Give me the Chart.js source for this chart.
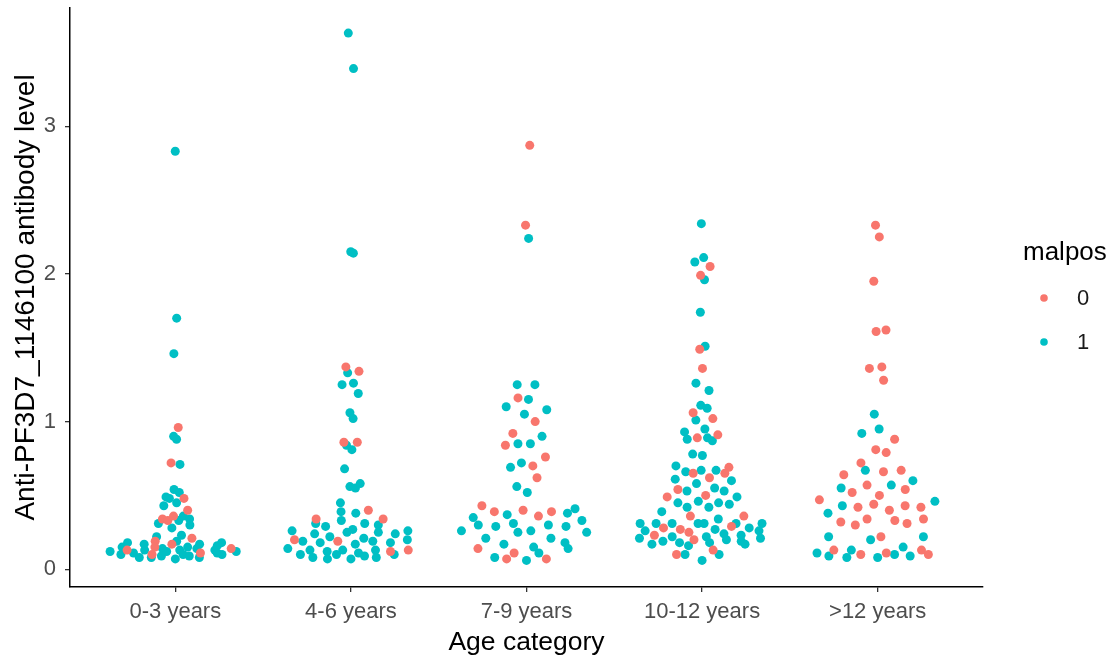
<!DOCTYPE html>
<html>
<head>
<meta charset="utf-8">
<script src="https://cdn.jsdelivr.net/npm/chart.js"></script>
<style>
html, body { margin: 0; padding: 0; background: #fff; }
#wrap { width: 1119px; height: 660px; }
</style>
</head>
<body>
<div id="wrap"><canvas id="graficoSwarm"></canvas></div>
<script>
// categorias e ticks
const categories = ['0-3 years', '4-6 years', '7-9 years', '10-12 years', '>12 years'];
const yTicks = [0, 1, 2, 3];
const seriesLabels = ['0', '1'];

// malpos = 0, um array por categoria
const malpos0 = [
    [0.96, 0.72, 0.48, 0.40, 0.36, 0.34, 0.33, 0.21, 0.19, 0.17, 0.15, 0.14, 0.13, 0.11, 0.10],
    [1.37, 1.34, 0.86, 0.86, 0.40, 0.34, 0.34, 0.20, 0.19, 0.13, 0.12],
    [2.87, 2.33, 1.16, 1.00, 0.92, 0.84, 0.76, 0.70, 0.62, 0.43, 0.40, 0.39, 0.39, 0.36, 0.14, 0.11, 0.07, 0.07],
    [2.05, 1.99, 1.49, 1.36, 1.06, 1.02, 0.91, 0.89, 0.69, 0.65, 0.65, 0.62, 0.54, 0.50, 0.49, 0.36, 0.36, 0.29, 0.28, 0.27, 0.25, 0.23, 0.20, 0.13, 0.10],
    [2.33, 2.25, 1.95, 1.62, 1.61, 1.37, 1.36, 1.28, 0.88, 0.81, 0.79, 0.72, 0.67, 0.66, 0.64, 0.57, 0.54, 0.52, 0.50, 0.47, 0.44, 0.43, 0.42, 0.42, 0.40, 0.34, 0.34, 0.33, 0.32, 0.31, 0.30, 0.22, 0.13, 0.13, 0.11, 0.10, 0.10]
];

// malpos = 1
const malpos1 = [
    [2.83, 1.70, 1.46, 0.90, 0.88, 0.71, 0.54, 0.52, 0.49, 0.48, 0.45, 0.43, 0.36, 0.34, 0.33, 0.31, 0.30, 0.28, 0.23, 0.22, 0.19, 0.18, 0.18, 0.17, 0.17, 0.16, 0.15, 0.15, 0.14, 0.14, 0.13, 0.13, 0.13, 0.12, 0.12, 0.12, 0.11, 0.11, 0.10, 0.10, 0.10, 0.09, 0.09, 0.08, 0.08, 0.08, 0.07],
    [3.63, 3.39, 2.15, 2.14, 1.33, 1.26, 1.25, 1.19, 1.06, 1.02, 0.84, 0.81, 0.68, 0.58, 0.56, 0.55, 0.45, 0.39, 0.38, 0.33, 0.31, 0.31, 0.30, 0.29, 0.27, 0.26, 0.26, 0.25, 0.25, 0.24, 0.24, 0.22, 0.21, 0.20, 0.19, 0.19, 0.18, 0.18, 0.17, 0.14, 0.13, 0.13, 0.13, 0.12, 0.11, 0.10, 0.10, 0.10, 0.09, 0.08, 0.08, 0.07, 0.07],
    [2.24, 1.25, 1.25, 1.15, 1.10, 1.08, 1.05, 0.90, 0.85, 0.85, 0.72, 0.69, 0.56, 0.52, 0.41, 0.38, 0.37, 0.35, 0.33, 0.31, 0.30, 0.30, 0.29, 0.29, 0.26, 0.26, 0.25, 0.25, 0.21, 0.21, 0.18, 0.17, 0.15, 0.14, 0.11, 0.08, 0.06],
    [2.34, 2.11, 2.08, 1.96, 1.74, 1.51, 1.26, 1.21, 1.11, 1.09, 1.01, 0.95, 0.93, 0.89, 0.88, 0.87, 0.78, 0.77, 0.70, 0.67, 0.67, 0.66, 0.61, 0.60, 0.58, 0.55, 0.53, 0.53, 0.49, 0.46, 0.45, 0.45, 0.44, 0.42, 0.42, 0.39, 0.34, 0.31, 0.31, 0.31, 0.31, 0.31, 0.31, 0.31, 0.28, 0.27, 0.26, 0.26, 0.24, 0.23, 0.22, 0.22, 0.21, 0.21, 0.20, 0.19, 0.19, 0.18, 0.18, 0.17, 0.17, 0.16, 0.10, 0.10, 0.06],
    [1.05, 0.95, 0.92, 0.67, 0.60, 0.57, 0.55, 0.46, 0.43, 0.38, 0.22, 0.22, 0.20, 0.15, 0.13, 0.11, 0.10, 0.09, 0.09, 0.08, 0.08]
];

const cores = ['#F8766D', '#00BFC4'];
const FONTE = '"Liberation Sans", Arial, sans-serif';
const LARGURA = 0.4;   // meia largura maxima do enxame (unidades de categoria)
const AJUSTE = 0.5;    // ajuste da banda do kernel

// banda de Silverman (bw.nrd0 do R)
function bandaNrd0(v) {
    const n = v.length;
    const media = v.reduce((a, b) => a + b, 0) / n;
    const dp = Math.sqrt(v.reduce((a, b) => a + (b - media) * (b - media), 0) / (n - 1));
    const s = v.slice().sort((a, b) => a - b);
    const q = p => { const h = (n - 1) * p, i = Math.floor(h); return s[i] + (h - i) * ((s[i + 1] ?? s[i]) - s[i]); };
    let lo = Math.min(dp, (q(0.75) - q(0.25)) / 1.34);
    if (!lo) lo = dp || 1;
    return 0.9 * lo * Math.pow(n, -0.2);
}

// sequencia de van der Corput (base 2), comecando em 1
function vanDerCorput(k) {
    let r = 0, f = 0.5;
    while (k > 0) { r += f * (k % 2); k = Math.floor(k / 2); f /= 2; }
    return r;
}

// quasirandom: deslocamento = (vdc - 0.5) * 2 * densidade normalizada * largura
function deslocamentos(v) {
    const h = bandaNrd0(v) * AJUSTE;
    const dens = t => v.reduce((a, x) => a + Math.exp(-0.5 * ((t - x) / h) ** 2), 0);
    const lo = Math.min(...v) - 3 * h, hi = Math.max(...v) + 3 * h;
    let max = 0;
    for (let i = 0; i <= 512; i++) max = Math.max(max, dens(lo + (hi - lo) * i / 512));
    const ordem = v.map((_, i) => i).sort((a, b) => v[a] - v[b] || a - b);
    const out = new Array(v.length);
    ordem.forEach((idx, r) => { out[idx] = (vanDerCorput(r + 1) - 0.5) * 2 * (dens(v[idx]) / max) * LARGURA; });
    return out;
}

// monta os pontos das duas series com x = categoria + deslocamento
const pontos = [[], []];
categories.forEach((c, ci) => {
    const grupo = [];
    malpos1[ci].forEach(v => grupo.push({ s: 1, v }));
    malpos0[ci].forEach(v => grupo.push({ s: 0, v }));
    const offs = deslocamentos(grupo.map(g => g.v));
    grupo.forEach((g, j) => pontos[g.s].push({ x: ci + 1 + offs[j], y: g.v }));
});

// legenda desenhada a mao (estilo ggplot)
const legendaMalpos = {
    id: 'legendaMalpos',
    afterDraw(chart) {
        const ctx = chart.ctx;
        const x0 = chart.chartArea.right + 40;
        ctx.save();
        ctx.textBaseline = 'middle';
        ctx.fillStyle = '#000';
        ctx.font = '26px ' + FONTE;
        ctx.fillText('malpos', x0, 253);
        ctx.font = '22px ' + FONTE;
        chart.data.datasets.forEach((ds, i) => {
            const y = 298 + i * 44;
            ctx.beginPath();
            ctx.fillStyle = ds.backgroundColor;
            ctx.arc(x0 + 21, y, 3.8, 0, Math.PI * 2);
            ctx.fill();
            ctx.fillStyle = '#1a1a1a';
            ctx.fillText(ds.label, x0 + 54, y + 1);
        });
        ctx.restore();
    }
};

new Chart(document.getElementById('graficoSwarm'), {
    type: 'scatter',
    data: {
        datasets: [
            { label: seriesLabels[0], data: pontos[0], backgroundColor: cores[0], borderWidth: 0, pointRadius: 4.5, pointHoverRadius: 4.5 },
            { label: seriesLabels[1], data: pontos[1], backgroundColor: cores[1], borderWidth: 0, pointRadius: 4.5, pointHoverRadius: 4.5 }
        ]
    },
    options: {
        responsive: true,
        maintainAspectRatio: false,
        animation: false,
        events: [],
        layout: { padding: { left: 0, top: 8, right: 136, bottom: 0 } },
        plugins: { legend: { display: false }, tooltip: { enabled: false } },
        scales: {
            x: {
                type: 'linear',
                min: 0.4,
                max: 5.6,
                afterBuildTicks: axis => { axis.ticks = categories.map((c, i) => ({ value: i + 1 })); },
                afterFit: axis => { axis.height = 73; axis.paddingLeft = 0; axis.paddingRight = 0; },
                ticks: {
                    callback: v => categories[v - 1],
                    color: '#4d4d4d',
                    font: { family: FONTE, size: 22 },
                    padding: 7,
                    maxRotation: 0,
                    autoSkip: false
                },
                grid: { drawOnChartArea: false, drawTicks: true, tickLength: 5, color: '#333', lineWidth: 1.3 },
                border: { color: '#000', width: 1.5 },
                title: { display: true, text: 'Age category', color: '#000', font: { family: FONTE, size: 26.5 }, padding: { top: 0, bottom: 1 } }
            },
            y: {
                type: 'linear',
                min: -0.12,
                max: 3.8,
                afterBuildTicks: axis => { axis.ticks = yTicks.map(v => ({ value: v })); },
                afterFit: axis => { axis.width = 70; axis.paddingTop = 0; axis.paddingBottom = 0; },
                ticks: {
                    color: '#4d4d4d',
                    font: { family: FONTE, size: 22 },
                    padding: 9
                },
                grid: { drawOnChartArea: false, drawTicks: true, tickLength: 5, color: '#333', lineWidth: 1.3 },
                border: { color: '#000', width: 1.5 },
                title: { display: true, text: 'Anti-PF3D7_1146100 antibody level', color: '#000', font: { family: FONTE, size: 28 }, padding: { top: 9, bottom: 0 } }
            }
        }
    },
    plugins: [legendaMalpos]
});
</script>
</body>
</html>
